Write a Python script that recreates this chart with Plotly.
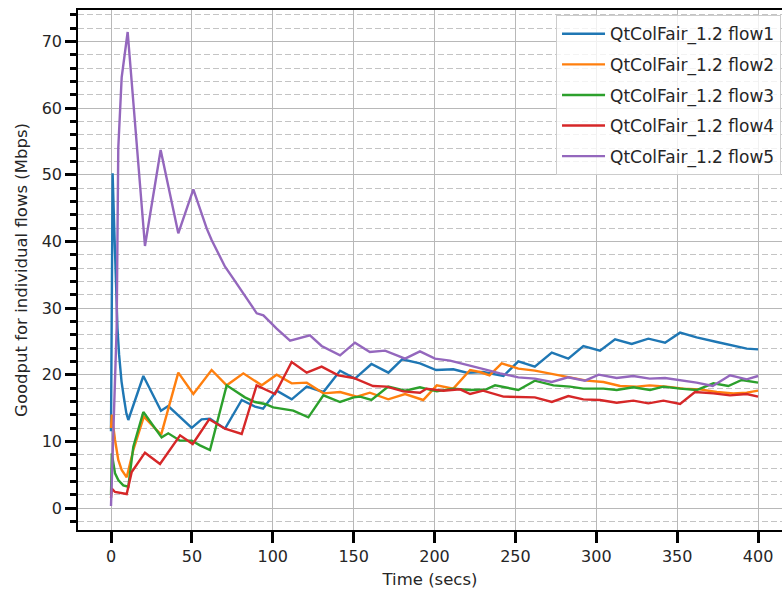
import plotly.graph_objects as go

# Goodput per flow over time (secs -> Mbps)
t_flow1 = [0, 1, 2, 3, 4, 5, 6.5, 8, 9.5, 10.7, 20, 30.9, 35.4, 49.9, 56, 61.2, 70.5, 80.8, 89, 94,
           102.4, 111.7, 121, 131.3, 141.6, 150.8, 161, 171.5, 180, 191, 201, 211.6, 220, 230, 242.6,
           251.8, 262, 272.5, 282.7, 292, 302.3, 311.6, 321.9, 332.2, 342.5, 351.8, 362, 374.5,
           384.7, 393, 400]
v_flow1 = [11.5, 50.2, 42, 33, 27, 23, 19, 16.5, 14.2, 13.2, 19.8, 14.6, 15.3, 12.0, 13.3, 13.4, 11.9,
           16.2, 15.2, 14.9, 17.6, 16.3, 18.2, 17.4, 20.6, 19.4, 21.6, 20.3, 22.3, 21.7, 20.7, 20.8,
           20.3, 20.4, 19.8, 22.0, 21.2, 23.3, 22.4, 24.3, 23.6, 25.3, 24.6, 25.4, 24.8, 26.3, 25.6,
           24.9, 24.3, 23.9, 23.8]

t_flow2 = [0, 0.5, 2.5, 4.5, 6.6, 9.7, 13.8, 20.3, 31, 41.6, 50.9, 62.2, 71.5, 81.8, 93.2, 102.4,
           111.7, 121, 131.3, 141.6, 152, 160, 171.4, 181.8, 193, 201.4, 211.6, 222, 228, 234, 241.5,
           251.8, 262, 273.5, 283.8, 294, 304.4, 314.7, 325, 333, 343.5, 353.8, 364, 374.5, 384.7,
           393, 400]
v_flow2 = [12, 14.0, 10.2, 7.2, 5.7, 4.6, 8.7, 13.7, 11.0, 20.3, 17.1, 20.7, 18.4, 20.2, 18.4, 20.0,
           18.7, 18.8, 17.2, 17.4, 16.7, 17.3, 16.3, 17.1, 16.2, 18.4, 17.9, 20.7, 20.4, 19.9, 21.7,
           20.9, 20.6, 20.1, 19.6, 19.1, 18.9, 18.3, 18.2, 18.4, 18.2, 17.9, 17.8, 17.4, 17.2, 17.3,
           17.6]

t_flow3 = [0, 0.5, 2.5, 4.5, 7.6, 10.7, 13.8, 20, 31.3, 35.4, 42.7, 50, 55, 61.2, 71.5, 82.8, 89,
           95.2, 100.3, 105.5, 112.7, 122, 131.3, 141.6, 150, 154, 161, 171.4, 181.8, 191, 201.4,
           211.6, 222, 232, 237.4, 251.8, 262, 273.5, 283.8, 292, 304.4, 312.6, 322.9, 333.2, 341.5,
           351.8, 362, 372.4, 381.6, 389.9, 400]
v_flow3 = [2.0, 8.2, 5.2, 4.2, 3.4, 3.2, 9.2, 14.4, 10.6, 11.2, 10.1, 10.1, 9.4, 8.7, 18.4, 16.6,
           15.9, 15.6, 15.1, 14.9, 14.6, 13.6, 16.9, 15.9, 16.6, 16.7, 16.2, 18.2, 17.6, 18.1, 17.5,
           17.9, 17.7, 17.8, 18.4, 17.7, 19.1, 18.4, 18.2, 17.9, 17.9, 17.7, 18.1, 17.7, 18.2, 17.9,
           17.7, 18.7, 18.3, 19.2, 18.8]

t_flow4 = [0, 0.5, 2.5, 9.7, 12.8, 21, 30.3, 42.7, 50.5, 60.7, 70.5, 80.8, 90, 101.4, 111.7, 121,
           130.2, 140.5, 150, 162, 170.4, 180.7, 191, 195, 205.4, 215.8, 222, 230, 242.6, 251.8,
           262, 272.5, 282.7, 292, 302.3, 312.6, 322.9, 332.2, 341.5, 351.8, 361, 372.4, 382.7,
           393, 400]
v_flow4 = [1.5, 2.9, 2.4, 2.1, 5.4, 8.3, 6.6, 10.9, 9.6, 13.3, 11.9, 11.1, 18.4, 17.1, 21.9, 20.3,
           21.2, 19.9, 19.5, 18.3, 18.2, 17.5, 17.3, 17.9, 17.6, 17.8, 17.1, 17.6, 16.7, 16.6, 16.6,
           15.9, 16.8, 16.3, 16.2, 15.8, 16.1, 15.7, 16.1, 15.6, 17.4, 17.2, 16.9, 17.1, 16.7]

t_flow5 = [0, 1.4, 3.5, 4.5, 6.6, 10.3, 21, 30.7, 41.6, 50.9, 59.2, 62.2, 70.5, 75.6, 81.8, 90.1,
           94.2, 102.4, 110.7, 123, 130.2, 141.6, 150.8, 160, 169.4, 181.8, 191, 200.3, 209.6, 222,
           231, 240.5, 251.8, 262, 272.5, 282.5, 293, 301.5, 312.6, 322.8, 333, 342.5, 350.6, 362,
           372, 382.7, 393, 400]
v_flow5 = [0.3, 12, 27, 54, 64.6, 71.4, 39.3, 53.7, 41.2, 47.8, 41.9, 40.2, 36.2, 34.4, 32.2, 29.2,
           28.9, 26.9, 25.1, 25.9, 24.3, 22.9, 24.8, 23.4, 23.6, 22.4, 23.5, 22.4, 22.1, 21.4, 20.8,
           20.2, 19.6, 19.4, 18.9, 19.6, 19.1, 20.0, 19.5, 19.8, 19.4, 19.5, 19.2, 18.8, 18.3, 19.9,
           19.3, 19.8]

names = ["QtColFair_1.2 flow1", "QtColFair_1.2 flow2", "QtColFair_1.2 flow3",
         "QtColFair_1.2 flow4", "QtColFair_1.2 flow5"]
colors = ["#1f77b4", "#ff7f0e", "#2ca02c", "#d62728", "#9467bd"]
series = [(t_flow1, v_flow1), (t_flow2, v_flow2), (t_flow3, v_flow3),
          (t_flow4, v_flow4), (t_flow5, v_flow5)]

FONT = "DejaVu Sans"
TXT = "#262626"

fig = go.Figure()
for i, ((t, v), name, c) in enumerate(zip(series, names, colors)):
    fig.add_trace(go.Scatter(x=t, y=v, mode="lines", name=name, legendgroup=f"g{i}",
                             line=dict(color=c, width=2.4)))

fig.update_layout(
    width=782, height=592,
    margin=dict(l=78, r=0, t=10, b=62),
    plot_bgcolor="white", paper_bgcolor="white",
    font=dict(family=FONT, size=16, color=TXT),
    showlegend=True,
    legend=dict(x=0.679, y=0.99, xanchor="left", yanchor="top",
                bgcolor="rgba(255,255,255,0.8)", bordercolor="#cccccc", borderwidth=1,
                font=dict(family=FONT, size=17, color=TXT), tracegroupgap=5.5,
                itemwidth=43),
    hovermode=False,
)

fig.update_xaxes(
    range=[-20.4, 414.8], tickmode="linear", tick0=0, dtick=50,
    showgrid=True, gridcolor="#b8b8b8", gridwidth=1.2,
    showline=True, linecolor="black", linewidth=1.5, mirror=True,
    ticks="outside", ticklen=11, tickwidth=3, tickcolor="black",
    tickfont=dict(family=FONT, size=16, color=TXT),
    zeroline=False,
    title=dict(text="Time (secs)", font=dict(family=FONT, size=16.5, color=TXT), standoff=8),
)

fig.update_yaxes(
    range=[-3.3, 74.7], tickmode="linear", tick0=0, dtick=10,
    showgrid=True, gridcolor="#b8b8b8", gridwidth=1.2,
    showline=True, linecolor="black", linewidth=1.5,
    ticks="outside", ticklen=11, tickwidth=3, tickcolor="black",
    tickfont=dict(family=FONT, size=16, color=TXT),
    zeroline=False,
    minor=dict(dtick=2, tick0=0, showgrid=True, gridcolor="#c4c4c4", gridwidth=1.2,
               griddash="6px,3px", ticks="outside", ticklen=6, tickwidth=2.5,
               tickcolor="black"),
    title=dict(text="Goodput for individual flows (Mbps)",
               font=dict(family=FONT, size=16.5, color=TXT), standoff=10),
)

fig.write_html("out.html")
